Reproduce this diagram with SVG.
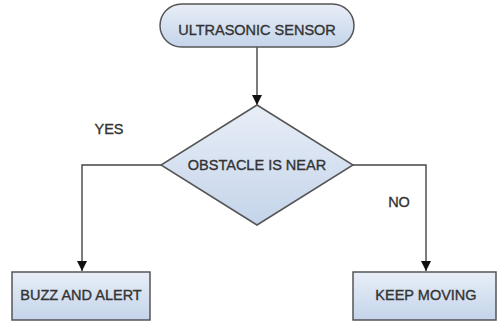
<svg xmlns="http://www.w3.org/2000/svg" width="497" height="322" viewBox="0 0 497 322">
  <defs>
    <linearGradient id="nodeFill" x1="0" y1="0" x2="0" y2="1">
      <stop offset="0" stop-color="#e8eef7"/>
      <stop offset="1" stop-color="#c4d4ea"/>
    </linearGradient>
    <marker id="arrow" viewBox="0 0 10 10" refX="10" refY="5" markerWidth="10" markerHeight="10" markerUnits="userSpaceOnUse" orient="auto">
      <path d="M0,0 L10,5 L0,10 Z" fill="#111"/>
    </marker>
    <style>
      .shape { fill: url(#nodeFill); stroke: #555; stroke-width: 1.5; }
      .label { font-family: "Liberation Sans", Arial, sans-serif; font-size: 14.5px; fill: #333; stroke: #333; stroke-width: 0.35; text-anchor: middle; }
      .edge { fill: none; stroke: #444; stroke-width: 1.4; }
    </style>
  </defs>
  <rect width="497" height="322" fill="#fff"/>

  <g id="connectors">
    <line class="edge" x1="257" y1="47" x2="257" y2="105" marker-end="url(#arrow)"/>
    <polyline class="edge" points="161,165 82,165 82,271" marker-end="url(#arrow)"/>
    <polyline class="edge" points="353,165 426,165 426,271" marker-end="url(#arrow)"/>
    <text class="label" x="109" y="134">YES</text>
    <text class="label" x="399" y="207">NO</text>
  </g>

  <g id="sensor">
    <rect class="shape" x="160" y="4" width="194" height="43" rx="21.5" ry="21.5"/>
    <text class="label" x="257" y="35">ULTRASONIC SENSOR</text>
  </g>

  <g id="decision">
    <polygon class="shape" points="257,105 353,165 257,225 161,165"/>
    <text class="label" x="257" y="170">OBSTACLE IS NEAR</text>
  </g>

  <g id="buzz">
    <rect class="shape" x="12" y="272" width="138" height="48"/>
    <text class="label" x="81" y="300">BUZZ AND ALERT</text>
  </g>

  <g id="keep-moving">
    <rect class="shape" x="353" y="272" width="143" height="48"/>
    <text class="label" x="426" y="300">KEEP MOVING</text>
  </g>
</svg>
